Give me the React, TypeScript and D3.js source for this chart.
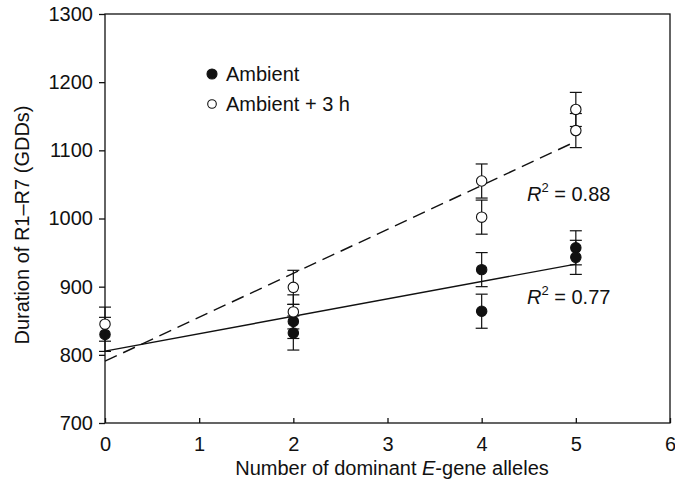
import { useEffect, useRef } from 'react';
import * as d3 from 'd3';

// Number of dominant E-gene alleles per line
const alleles = [0, 2, 2, 4, 4, 5, 5];
// Duration R1-R7 (GDDs)
const ambient = [830, 849, 832, 925, 864, 957, 943];
const ambientPlus3h = [845, 899, 863, 1055, 1002, 1160, 1129];
const ambientErr = [25, 25, 25, 25, 25, 25, 25];
const ambientPlus3hErr = [25, 25, 25, 25, 25, 25, 25];

const xTicks = [0, 1, 2, 3, 4, 5, 6];
const yTicks = [700, 800, 900, 1000, 1100, 1200, 1300];
const r2Labels = ['0.77', '0.88'];

const width = 675;
const height = 490;
const margin = { top: 14, right: 5, bottom: 67, left: 105 };

const fit = (xs: number[], ys: number[]) => {
  const mx = d3.mean(xs)!;
  const my = d3.mean(ys)!;
  const sxy = d3.sum(xs, (x, i) => (x - mx) * (ys[i] - my));
  const sxx = d3.sum(xs, x => (x - mx) ** 2);
  const slope = sxy / sxx;
  return { slope, intercept: my - slope * mx };
};

export default function App() {
  const svgRef = useRef<SVGSVGElement>(null);

  useEffect(() => {
    if (!svgRef.current) return;
    const svg = d3.select(svgRef.current);
    svg.selectAll('*').remove();

    const font = 'Liberation Sans, Arial, Helvetica, sans-serif';
    const fs = 20;
    const x = d3.scaleLinear().domain([0, 6]).range([margin.left, width - margin.right]);
    const y = d3.scaleLinear().domain([700, 1300]).range([height - margin.bottom, margin.top]);

    // frame
    svg.append('rect')
      .attr('x', x(0)).attr('y', y(1300))
      .attr('width', x(6) - x(0)).attr('height', y(700) - y(1300))
      .attr('fill', 'none').attr('stroke', '#111').attr('stroke-width', 1.3);

    // y axis, ticks outward
    const yAxis = svg.append('g')
      .attr('transform', `translate(${x(0)},0)`)
      .call(d3.axisLeft(y).tickValues(yTicks).tickFormat(d3.format('d')).tickSize(6).tickPadding(6));
    yAxis.select('.domain').remove();
    yAxis.selectAll('line').attr('stroke', '#111').attr('stroke-width', 1.3);
    yAxis.selectAll('text').attr('font-family', font).attr('font-size', fs).attr('fill', '#111');

    // x axis, ticks inward
    const xAxis = svg.append('g')
      .attr('transform', `translate(0,${y(700)})`)
      .call(d3.axisBottom(x).tickValues(xTicks).tickFormat(d3.format('d')).tickSize(-5).tickPadding(14));
    xAxis.select('.domain').remove();
    xAxis.selectAll('line').attr('stroke', '#111').attr('stroke-width', 1.3);
    xAxis.selectAll('text').attr('font-family', font).attr('font-size', fs).attr('fill', '#111');

    // regression lines
    const drawFit = (ys: number[], dash: string | null) => {
      const { slope, intercept } = fit(alleles, ys);
      const line = svg.append('line')
        .attr('x1', x(0)).attr('y1', y(intercept))
        .attr('x2', x(5)).attr('y2', y(intercept + slope * 5))
        .attr('stroke', '#111').attr('stroke-width', 1.4);
      if (dash) line.attr('stroke-dasharray', dash);
    };
    drawFit(ambient, null);
    drawFit(ambientPlus3h, '13,7');

    // error bars + points
    const drawSeries = (ys: number[], errs: number[], filled: boolean) => {
      const g = svg.append('g');
      ys.forEach((v, i) => {
        const cx = x(alleles[i]);
        g.append('line')
          .attr('x1', cx).attr('x2', cx)
          .attr('y1', y(v + errs[i])).attr('y2', y(v - errs[i]))
          .attr('stroke', '#111').attr('stroke-width', 1.2);
        [v + errs[i], v - errs[i]].forEach(e => {
          g.append('line')
            .attr('x1', cx - 6).attr('x2', cx + 6)
            .attr('y1', y(e)).attr('y2', y(e))
            .attr('stroke', '#111').attr('stroke-width', 1.2);
        });
      });
      ys.forEach((v, i) => {
        g.append('circle')
          .attr('cx', x(alleles[i])).attr('cy', y(v))
          .attr('r', 5.2)
          .attr('fill', filled ? '#111' : '#fff')
          .attr('stroke', '#111').attr('stroke-width', 1.1);
      });
    };
    drawSeries(ambient, ambientErr, true);
    drawSeries(ambientPlus3h, ambientPlus3hErr, false);

    // legend
    const legend = [
      { label: 'Ambient', filled: true },
      { label: 'Ambient + 3 h', filled: false },
    ];
    legend.forEach((l, i) => {
      const ly = 74 + i * 30;
      svg.append('circle')
        .attr('cx', 212).attr('cy', ly).attr('r', l.filled ? 5 : 4.3)
        .attr('fill', l.filled ? '#111' : '#fff')
        .attr('stroke', '#111').attr('stroke-width', 1.1);
      svg.append('text')
        .attr('x', 226).attr('y', ly).attr('dy', '0.36em')
        .attr('font-family', font).attr('font-size', fs).attr('fill', '#111')
        .text(l.label);
    });

    // R² annotations
    const r2Pos = [{ x: 527, y: 304 }, { x: 527, y: 201 }];
    r2Labels.forEach((val, i) => {
      const t = svg.append('text')
        .attr('x', r2Pos[i].x).attr('y', r2Pos[i].y)
        .attr('font-family', font).attr('font-size', fs).attr('fill', '#111');
      t.append('tspan').attr('font-style', 'italic').text('R');
      t.append('tspan').attr('font-size', 13).attr('dy', -9).text('2');
      t.append('tspan').attr('dy', 9).text(` = ${val}`);
    });

    // axis titles
    const xt = svg.append('text')
      .attr('x', 392).attr('y', 475)
      .attr('text-anchor', 'middle')
      .attr('font-family', font).attr('font-size', fs).attr('fill', '#111');
    xt.append('tspan').text('Number of dominant ');
    xt.append('tspan').attr('font-style', 'italic').text('E');
    xt.append('tspan').text('-gene alleles');

    svg.append('text')
      .attr('transform', `translate(29,225) rotate(-90)`)
      .attr('text-anchor', 'middle')
      .attr('font-family', font).attr('font-size', fs).attr('fill', '#111')
      .text('Duration of R1–R7 (GDDs)');
  }, []);

  return (
    <svg
      ref={svgRef}
      width={width}
      height={height}
      style={{ position: 'absolute', left: 0, top: 0, background: '#fff' }}
    />
  );
}
